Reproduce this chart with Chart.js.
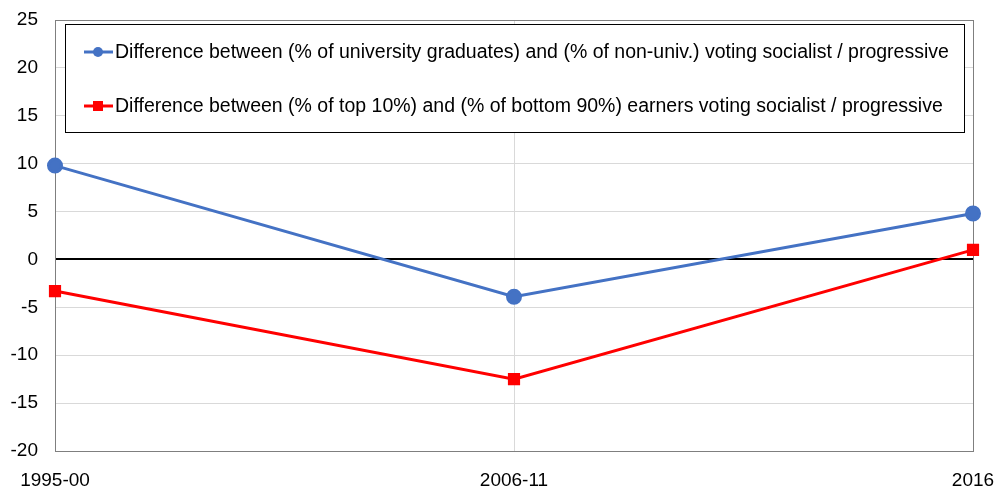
<!DOCTYPE html>
<html>
<head>
<meta charset="utf-8">
<script src="https://cdn.jsdelivr.net/npm/chart.js@4.4.1/dist/chart.umd.min.js"></script>
<style>
  html, body { margin: 0; padding: 0; background: #fff; }
  #wrap { width: 998px; height: 489px; }
</style>
</head>
<body>
<div id="wrap"><canvas id="c" width="998" height="489"></canvas></div>
<script>
// periods and series
const periods = ['1995-00', '2006-11', '2016'];
const univGap = [9.8, -3.9, 4.8];
const top10Gap = [-3.3, -12.5, 1.0];
const yTicks = [25, 20, 15, 10, 5, 0, -5, -10, -15, -20];

const labelUniv = 'Difference between (% of university graduates) and (% of non-univ.) voting socialist / progressive';
const labelTop10 = 'Difference between (% of top 10%) and (% of bottom 90%) earners voting socialist / progressive';

const FONT = '"Liberation Sans", Arial, sans-serif';

// legend box drawn inside the plot, Excel style
const boxLegend = {
  id: 'boxLegend',
  afterDraw(chart) {
    const ctx = chart.ctx;
    const x0 = 65, y0 = 24, x1 = 964, y1 = 132;
    ctx.save();
    ctx.fillStyle = '#fff';
    ctx.fillRect(x0, y0, x1 - x0, y1 - y0);
    ctx.strokeStyle = '#000';
    ctx.lineWidth = 1;
    ctx.strokeRect(x0 + 0.5, y0 + 0.5, x1 - x0, y1 - y0);
    const rows = [52, 106];
    chart.data.datasets.forEach((ds, i) => {
      const y = rows[i];
      ctx.strokeStyle = ds.borderColor;
      ctx.lineWidth = 3;
      ctx.beginPath();
      ctx.moveTo(84, y);
      ctx.lineTo(113, y);
      ctx.stroke();
      ctx.fillStyle = ds.borderColor;
      if (ds.pointStyle === 'rect') {
        ctx.fillRect(93, y - 5, 10, 10);
      } else {
        ctx.beginPath();
        ctx.arc(98, y, 5, 0, Math.PI * 2);
        ctx.fill();
      }
      ctx.fillStyle = '#000';
      ctx.font = '19.5px ' + FONT;
      ctx.textBaseline = 'middle';
      ctx.fillText(ds.label, 115, y + 1);
    });
    ctx.restore();
  }
};

// black zero line and plot border
const frame = {
  id: 'frame',
  beforeDatasetsDraw(chart) {
    const { ctx, chartArea: a, scales: { y } } = chart;
    ctx.save();
    ctx.strokeStyle = '#000';
    ctx.lineWidth = 2;
    const z = Math.round(y.getPixelForValue(0));
    ctx.beginPath();
    ctx.moveTo(a.left, z);
    ctx.lineTo(a.right, z);
    ctx.stroke();
    ctx.strokeStyle = '#7f7f7f';
    ctx.lineWidth = 1;
    ctx.strokeRect(a.left + 0.5, a.top + 0.5, a.right - a.left, a.bottom - a.top);
    ctx.restore();
  }
};

new Chart(document.getElementById('c'), {
  type: 'line',
  data: {
    labels: periods,
    datasets: [
      {
        label: labelUniv,
        data: univGap,
        borderColor: '#4472C4',
        backgroundColor: '#4472C4',
        borderWidth: 3,
        pointStyle: 'circle',
        pointRadius: 6.5,
        tension: 0
      },
      {
        label: labelTop10,
        data: top10Gap,
        borderColor: '#FF0000',
        backgroundColor: '#FF0000',
        borderWidth: 3,
        pointStyle: 'rect',
        pointRadius: 6.5,
        tension: 0
      }
    ]
  },
  options: {
    responsive: false,
    animation: false,
    layout: { padding: { left: 0, right: 25, top: 20, bottom: 0 } },
    plugins: {
      legend: { display: false },
      tooltip: { enabled: false }
    },
    scales: {
      x: {
        offset: false,
        grid: { color: '#d9d9d9', drawTicks: false },
        border: { display: false },
        ticks: { color: '#000', font: { family: FONT, size: 19 }, padding: 18, maxRotation: 0 },
        afterFit: s => { s.height = 38; s.paddingLeft = 0; s.paddingRight = 0; }
      },
      y: {
        min: -20,
        max: 25,
        grid: { color: '#d9d9d9', drawTicks: false },
        border: { display: false },
        afterBuildTicks: s => { s.ticks = yTicks.map(v => ({ value: v })); },
        ticks: { color: '#000', font: { family: FONT, size: 19 }, padding: 17 },
        afterFit: s => { s.width = 55; s.paddingTop = 0; s.paddingBottom = 0; }
      }
    }
  },
  plugins: [frame, boxLegend]
});
</script>
</body>
</html>
